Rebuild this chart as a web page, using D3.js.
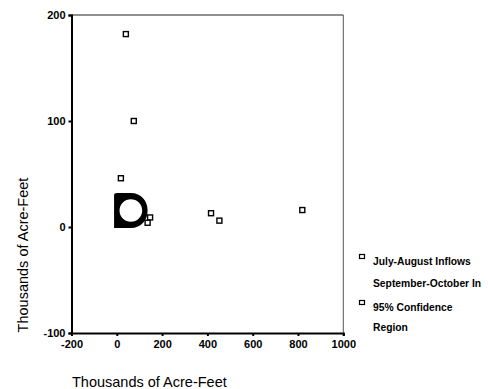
<!DOCTYPE html>
<html>
<head>
<meta charset="utf-8">
<script src="https://cdn.jsdelivr.net/npm/d3@7"></script>
<style>
  body { margin: 0; background: #fff; }
  svg { display: block; font-family: "Liberation Sans", Arial, sans-serif; }
</style>
</head>
<body>
<svg width="488" height="389"></svg>
<script>
// data (thousands of acre-feet)
const inflowX = [40, 75, 18, 147, 136, 416, 453, 819];
const inflowY = [182, 100, 46, 9, 4, 13, 6, 16];

// 95% confidence region: centre, outer and inner half-widths (data units)
const regionCenter = [62, 15.5];
const regionOuter = [74, 16.5];
const regionInner = [50, 10.6];

const xTicks = [-200, 0, 200, 400, 600, 800, 1000];
const yTicks = [-100, 0, 100, 200];
const legendLabels = [["July-August Inflows", "September-October In"], ["95% Confidence", "Region"]];

const svg = d3.select("svg");

let x = d3.scaleLinear().domain([-200, 1000]).range([71.5, 343.3]);
let y = d3.scaleLinear().domain([-100, 200]).range([333, 15]);

// frame: thin top / right, heavier left / bottom
svg.append("line").attr("x1", x(-200)).attr("x2", x(1000)).attr("y1", y(200)).attr("y2", y(200))
    .attr("stroke", "#222").attr("stroke-width", 1.2);
svg.append("line").attr("x1", x(1000)).attr("x2", x(1000)).attr("y1", y(200)).attr("y2", y(-100))
    .attr("stroke", "#555").attr("stroke-width", 1);

let xAxis = svg.append("g")
    .attr("transform", "translate(0," + y(-100) + ")")
    .call(d3.axisBottom(x).tickValues(xTicks).tickSize(3).tickPadding(4).tickFormat(d => String(d)));
let yAxis = svg.append("g")
    .attr("transform", "translate(" + x(-200) + ",0)")
    .call(d3.axisLeft(y).tickValues(yTicks).tickSize(3).tickPadding(3).tickFormat(d => String(d)));

[xAxis, yAxis].forEach(function (g) {
    g.select(".domain").attr("stroke", "#000").attr("stroke-width", 2);
    g.selectAll(".tick line").attr("stroke", "#000").attr("stroke-width", 2);
    g.selectAll(".tick text").attr("fill", "#000")
        .style("font-size", "11px").style("font-weight", "bold");
});

// confidence region: flat-left "D" ring with a round hole
let cx = x(regionCenter[0]), cy = y(regionCenter[1]);
let orx = x(regionCenter[0] + regionOuter[0]) - cx;
let ory = cy - y(regionCenter[1] + regionOuter[1]);
let irx = x(regionCenter[0] + regionInner[0]) - cx;
let iry = cy - y(regionCenter[1] + regionInner[1]);
let ring = d3.path();
ring.moveTo(cx - orx, cy - ory + 2);
ring.quadraticCurveTo(cx - orx, cy - ory, cx - orx + 3, cy - ory);
ring.lineTo(cx, cy - ory);
ring.bezierCurveTo(cx + orx * 0.62, cy - ory, cx + orx, cy - ory * 0.55, cx + orx, cy);
ring.bezierCurveTo(cx + orx, cy + ory * 0.55, cx + orx * 0.62, cy + ory, cx, cy + ory);
ring.lineTo(cx - orx, cy + ory);
ring.closePath();
let hole = "M" + (cx + irx) + "," + cy +
    "A" + irx + "," + iry + " 0 1,0 " + (cx - irx) + "," + cy +
    "A" + irx + "," + iry + " 0 1,0 " + (cx + irx) + "," + cy + "Z";
svg.append("path")
    .attr("d", ring.toString() + hole)
    .attr("fill", "#000")
    .attr("fill-rule", "evenodd");

// inflow points
svg.append("g").selectAll("rect")
    .data(inflowX.map(function (d, i) { return [d, inflowY[i]]; }))
    .enter()
    .append("rect")
    .attr("x", function (d) { return x(d[0]) - 2.5; })
    .attr("y", function (d) { return y(d[1]) - 2.5; })
    .attr("width", 5)
    .attr("height", 5)
    .attr("fill", "#fff")
    .attr("stroke", "#000")
    .attr("stroke-width", 1.4);

// axis titles
svg.append("text")
    .attr("x", 72).attr("y", 387)
    .style("font-size", "14.5px")
    .text("Thousands of Acre-Feet");
svg.append("text")
    .attr("transform", "translate(28,255) rotate(-90)")
    .attr("text-anchor", "middle")
    .style("font-size", "14.5px")
    .text("Thousands of Acre-Feet");

// legend
let legend = svg.append("g").selectAll("g")
    .data(legendLabels)
    .enter()
    .append("g")
    .attr("transform", function (d, i) { return "translate(362," + (257 + i * 46) + ")"; });
legend.append("rect")
    .attr("x", -2.5).attr("y", -2.5).attr("width", 5).attr("height", 4)
    .attr("fill", "#fff").attr("stroke", "#000").attr("stroke-width", 1.2);
legend.each(function (d, i) {
    let g = d3.select(this);
    d.forEach(function (line, j) {
        g.append("text")
            .attr("x", 11).attr("y", 8 + j * (i === 0 ? 22 : 20))
            .style("font-size", "10.3px")
            .style("font-weight", "bold")
            .text(line);
    });
});
</script>
</body>
</html>
